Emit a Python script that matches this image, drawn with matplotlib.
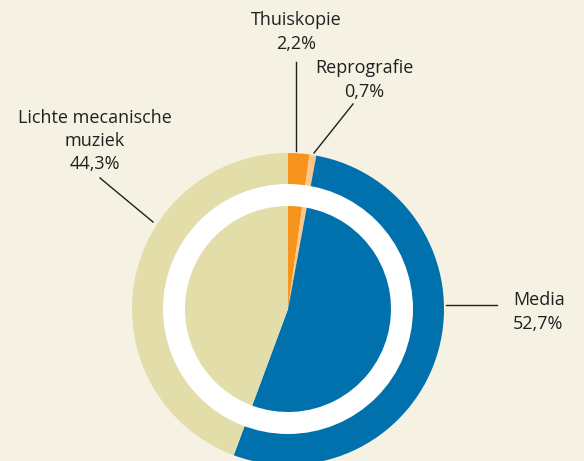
import matplotlib
matplotlib.use("Agg")
import matplotlib.pyplot as plt
from matplotlib.patches import Circle

# ---- data ----
categories = ["Thuiskopie", "Reprografie", "Media", "Lichte mecanische\nmuziek"]
values = [2.2, 0.7, 52.7, 44.3]
value_labels = ["2,2%", "0,7%", "52,7%", "44,3%"]
colors = ["#f7941d", "#fdc68a", "#0071ad", "#e2dda9"]

BG = "#f5f1e3"
TXT = "#231f20"
W, H = 584, 461

fig = plt.figure(figsize=(W / 100, H / 100), dpi=100, facecolor=BG)
ax = fig.add_axes([0, 0, 1, 1])
ax.set_facecolor(BG)

cx, cy = 288, H - 309
R_out, R_white, R_in = 156, 125, 103

ax.pie(values, colors=colors, startangle=90, counterclock=False,
       radius=R_out, center=(cx, cy),
       wedgeprops=dict(linewidth=0, antialiased=True))
ax.add_patch(Circle((cx, cy), R_white, facecolor="white", edgecolor="none", zorder=3))
wedges, _ = ax.pie(values, colors=colors, startangle=90, counterclock=False,
                   radius=R_in, center=(cx, cy),
                   wedgeprops=dict(linewidth=0, antialiased=True))
for w in wedges:
    w.set_zorder(4)

ax.set_xlim(0, W)
ax.set_ylim(0, H)
ax.set_aspect("equal")
ax.axis("off")

font = dict(family=["Open Sans", "DejaVu Sans"], fontsize=13, color=TXT,
            linespacing=1.37)

def Y(y):
    return H - y

# labels (positions are layout)
ax.text(296, Y(32), f"{categories[0]}\n{value_labels[0]}", ha="center", va="center", **font)
ax.text(364, Y(80), f"{categories[1]}\n{value_labels[1]}", ha="center", va="center", **font)
ax.text(95, Y(141), f"{categories[3]}\n{value_labels[3]}", ha="center", va="center", **font)
ax.text(513, Y(312), f"{categories[2]}\n{value_labels[2]}", ha="left", va="center", **font)

lw = 1.0
ax.plot([296, 296], [Y(62), Y(151)], color=TXT, lw=lw, zorder=5)
ax.plot([353, 314], [Y(104), Y(153)], color=TXT, lw=lw, zorder=5)
ax.plot([100, 153], [Y(178), Y(222)], color=TXT, lw=lw, zorder=5)
ax.plot([446, 497], [Y(305), Y(305)], color=TXT, lw=lw, zorder=5)

fig.savefig("out.png", dpi=100, facecolor=BG)
